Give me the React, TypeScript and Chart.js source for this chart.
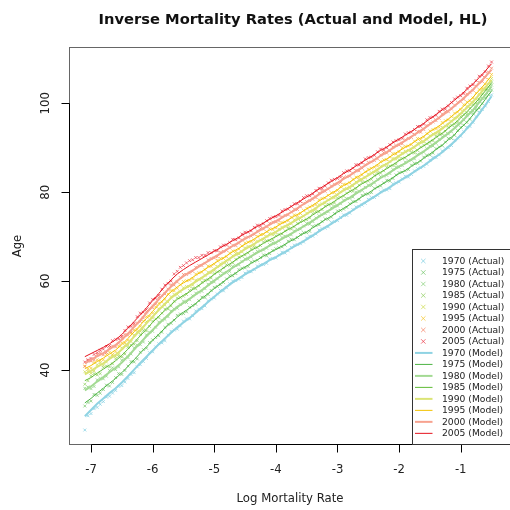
import { useEffect, useRef } from "react";
import { Chart, registerables } from "chart.js";

Chart.register(...registerables);

// Log mortality grid for the observed points
const LOG_RATES_FINE = [
  -7.1, -7.05, -7.0, -6.95, -6.9, -6.85, -6.8, -6.75, -6.7, -6.65,
  -6.6, -6.55, -6.5, -6.45, -6.4, -6.35, -6.3, -6.25, -6.2, -6.15,
  -6.1, -6.05, -6.0, -5.95, -5.9, -5.85, -5.8, -5.75, -5.7, -5.65,
  -5.6, -5.55, -5.5, -5.45, -5.4, -5.35, -5.3, -5.25, -5.2, -5.15,
  -5.1, -5.05, -5.0, -4.95, -4.9, -4.85, -4.8, -4.75, -4.7, -4.65,
  -4.6, -4.55, -4.5, -4.45, -4.4, -4.35, -4.3, -4.25, -4.2, -4.15,
  -4.1, -4.05, -4.0, -3.95, -3.9, -3.85, -3.8, -3.75, -3.7, -3.65,
  -3.6, -3.55, -3.5, -3.45, -3.4, -3.35, -3.3, -3.25, -3.2, -3.15,
  -3.1, -3.05, -3.0, -2.95, -2.9, -2.85, -2.8, -2.75, -2.7, -2.65,
  -2.6, -2.55, -2.5, -2.45, -2.4, -2.35, -2.3, -2.25, -2.2, -2.15,
  -2.1, -2.05, -2.0, -1.95, -1.9, -1.85, -1.8, -1.75, -1.7, -1.65,
  -1.6, -1.55, -1.5, -1.45, -1.4, -1.35, -1.3, -1.25, -1.2, -1.15,
  -1.1, -1.05, -1.0, -0.95, -0.9, -0.85, -0.8, -0.75, -0.7, -0.65,
  -0.6, -0.55, -0.5,
];

// Log mortality grid for the fitted curves
const LOG_RATES = [
  -7.1, -7.0, -6.9, -6.8, -6.7, -6.6, -6.5, -6.4, -6.3, -6.2,
  -6.1, -6.0, -5.9, -5.8, -5.7, -5.6, -5.5, -5.4, -5.3, -5.2,
  -5.1, -5.0, -4.9, -4.8, -4.7, -4.6, -4.5, -4.4, -4.3, -4.2,
  -4.1, -4.0, -3.9, -3.8, -3.7, -3.6, -3.5, -3.4, -3.3, -3.2,
  -3.1, -3.0, -2.9, -2.8, -2.7, -2.6, -2.5, -2.4, -2.3, -2.2,
  -2.1, -2.0, -1.9, -1.8, -1.7, -1.6, -1.5, -1.4, -1.3, -1.2,
  -1.1, -1.0, -0.9, -0.8, -0.7, -0.6, -0.5,
];

const YEARS = ["1970", "1975", "1980", "1985", "1990", "1995", "2000", "2005"];

// Observed ages at each log mortality level
const ACTUAL_1970 = [
  26.5, 29.7, 30.2, 31.3, 31.6, 32.3, 32.9, 33.9, 34.1, 34.8,
  35.4, 36.3, 36.5, 37.3, 38.1, 39.0, 39.4, 40.7, 41.2, 41.9,
  42.6, 43.9, 44.1, 45.2, 45.9, 46.1, 46.6, 47.9, 48.7, 49.0,
  49.2, 49.9, 51.0, 51.5, 51.5, 52.2, 53.3, 53.7, 53.8, 54.4,
  55.6, 56.0, 56.2, 57.1, 57.9, 57.8, 58.5, 59.4, 60.0, 60.1,
  60.4, 60.8, 61.8, 62.2, 62.1, 62.6, 63.4, 63.7, 63.7, 64.0,
  65.0, 65.1, 65.2, 65.9, 66.5, 66.3, 66.8, 67.6, 68.1, 68.2,
  68.4, 68.8, 69.7, 70.1, 70.1, 70.6, 71.5, 71.8, 71.9, 72.2,
  73.2, 73.4, 73.6, 74.3, 74.9, 74.8, 75.3, 76.1, 76.7, 76.8,
  77.1, 77.5, 78.4, 78.8, 78.8, 79.3, 80.1, 80.5, 80.5, 80.8,
  81.9, 82.1, 82.3, 83.0, 83.6, 83.4, 84.0, 84.8, 85.3, 85.5,
  85.8, 86.3, 87.2, 87.8, 87.8, 88.4, 89.3, 89.8, 90.0, 90.5,
  91.7, 92.2, 92.6, 93.6, 94.6, 94.8, 95.7, 97.0, 98.0, 98.6,
  99.4, 100.4, 101.9,
];
const ACTUAL_1975 = [
  31.9, 32.7, 33.0, 34.5, 34.3, 34.8, 35.6, 36.6, 36.4, 37.2,
  38.3, 39.2, 39.0, 39.9, 40.9, 41.9, 41.8, 42.5, 44.0, 44.6,
  44.9, 46.2, 46.8, 47.3, 47.7, 48.5, 49.6, 50.3, 50.5, 51.2,
  52.3, 52.6, 52.7, 53.1, 54.1, 54.5, 54.8, 55.6, 56.4, 56.3,
  57.0, 57.9, 58.6, 58.8, 59.2, 59.7, 60.5, 61.2, 61.2, 61.7,
  62.6, 62.9, 63.0, 63.3, 64.3, 64.5, 64.7, 65.3, 65.9, 65.7,
  66.2, 66.9, 67.3, 67.5, 67.7, 68.1, 69.0, 69.4, 69.3, 69.8,
  70.5, 70.9, 70.9, 71.2, 72.3, 72.5, 72.7, 73.4, 74.0, 73.9,
  74.4, 75.2, 75.8, 75.9, 76.2, 76.6, 77.4, 77.9, 77.9, 78.4,
  79.3, 79.6, 79.6, 79.9, 80.9, 81.2, 81.4, 82.1, 82.7, 82.5,
  83.1, 83.9, 84.4, 84.5, 84.8, 85.1, 86.1, 86.5, 86.5, 87.0,
  87.9, 88.3, 88.4, 88.8, 89.8, 90.2, 90.5, 91.3, 92.1, 92.1,
  92.8, 93.9, 94.6, 95.1, 95.7, 96.4, 97.7, 98.5, 98.9, 99.9,
  101.2, 102.0, 103.0,
];
const ACTUAL_1980 = [
  35.9, 36.2, 35.8, 36.3, 37.8, 38.1, 38.0, 38.6, 39.9, 40.5,
  40.1, 40.7, 42.2, 42.5, 42.8, 43.6, 45.0, 45.6, 45.7, 46.3,
  47.9, 48.5, 48.7, 49.6, 50.8, 51.2, 51.4, 52.0, 53.3, 53.7,
  53.9, 54.7, 55.5, 55.2, 55.8, 56.7, 57.3, 57.5, 57.7, 58.3,
  59.3, 59.8, 59.8, 60.5, 61.3, 61.8, 61.9, 62.2, 63.3, 63.5,
  63.7, 64.4, 65.0, 64.9, 65.4, 66.2, 66.7, 66.8, 67.0, 67.4,
  68.2, 68.6, 68.5, 69.0, 69.8, 70.1, 70.1, 70.4, 71.3, 71.6,
  71.7, 72.4, 73.0, 72.8, 73.4, 74.2, 74.7, 74.9, 75.2, 75.6,
  76.5, 76.9, 76.9, 77.4, 78.2, 78.6, 78.6, 78.9, 80.0, 80.2,
  80.4, 81.1, 81.6, 81.5, 82.1, 82.9, 83.5, 83.6, 83.8, 84.2,
  85.1, 85.6, 85.6, 86.0, 86.8, 87.1, 87.2, 87.5, 88.5, 88.8,
  89.0, 89.8, 90.4, 90.4, 91.0, 91.9, 92.5, 92.7, 93.1, 93.6,
  94.6, 95.3, 95.5, 96.3, 97.4, 98.0, 98.3, 99.0, 100.4, 101.1,
  101.8, 102.9, 104.1,
];
const ACTUAL_1985 = [
  36.8, 37.6, 38.7, 39.2, 38.9, 39.2, 40.6, 40.9, 40.7, 41.4,
  42.5, 43.1, 42.9, 43.6, 45.1, 45.6, 45.8, 46.6, 48.0, 48.9,
  48.8, 49.8, 51.0, 51.5, 51.8, 52.8, 53.7, 53.7, 54.4, 55.5,
  56.2, 56.3, 56.6, 57.0, 57.9, 58.4, 58.3, 58.9, 59.8, 60.2,
  60.3, 60.7, 61.7, 62.1, 62.2, 63.0, 63.7, 63.5, 64.1, 64.9,
  65.4, 65.6, 65.9, 66.3, 67.2, 67.6, 67.5, 68.0, 68.8, 69.1,
  69.1, 69.3, 70.2, 70.5, 70.6, 71.3, 71.9, 71.7, 72.2, 73.0,
  73.4, 73.6, 73.8, 74.2, 75.2, 75.6, 75.6, 76.1, 76.9, 77.3,
  77.3, 77.6, 78.7, 78.9, 79.1, 79.8, 80.3, 80.2, 80.8, 81.6,
  82.2, 82.3, 82.5, 82.9, 83.8, 84.3, 84.3, 84.8, 85.6, 85.9,
  86.0, 86.3, 87.3, 87.6, 87.7, 88.4, 89.0, 88.8, 89.4, 90.2,
  90.6, 90.9, 91.2, 91.6, 92.6, 93.1, 93.1, 93.7, 94.6, 95.1,
  95.3, 95.8, 97.0, 97.5, 97.9, 98.9, 99.7, 100.0, 100.9, 102.1,
  103.1, 103.7, 104.8,
];
const ACTUAL_1990 = [
  39.6, 39.7, 39.3, 39.8, 41.2, 41.6, 41.1, 41.8, 42.9, 43.2,
  43.0, 43.5, 45.0, 45.5, 45.6, 46.4, 47.9, 48.6, 48.7, 49.5,
  50.9, 51.3, 51.7, 52.9, 53.8, 54.2, 54.6, 55.3, 56.5, 57.0,
  57.0, 57.6, 58.5, 58.8, 58.8, 59.1, 60.2, 60.4, 60.6, 61.3,
  62.0, 61.9, 62.4, 63.3, 63.9, 64.1, 64.4, 64.8, 65.7, 66.2,
  66.1, 66.6, 67.5, 67.8, 67.8, 68.1, 69.0, 69.3, 69.4, 70.1,
  70.7, 70.4, 70.9, 71.7, 72.1, 72.3, 72.5, 72.9, 73.8, 74.2,
  74.1, 74.6, 75.3, 75.7, 75.8, 76.1, 77.2, 77.4, 77.6, 78.3,
  78.8, 78.7, 79.3, 80.1, 80.7, 80.8, 81.0, 81.4, 82.3, 82.8,
  82.8, 83.3, 84.1, 84.4, 84.5, 84.8, 85.8, 86.1, 86.2, 86.9,
  87.6, 87.4, 88.0, 88.8, 89.2, 89.4, 89.6, 90.0, 91.0, 91.4,
  91.3, 91.9, 92.7, 93.1, 93.2, 93.5, 94.6, 94.9, 95.2, 96.0,
  96.7, 96.8, 97.5, 98.5, 99.3, 99.7, 100.2, 100.9, 102.1, 103.0,
  103.4, 104.3, 105.6,
];
const ACTUAL_1995 = [
  40.9, 40.2, 40.4, 41.7, 42.3, 42.1, 42.3, 43.5, 44.0, 43.5,
  44.1, 45.4, 46.1, 46.1, 46.7, 48.3, 49.0, 49.1, 49.8, 51.0,
  52.0, 52.1, 52.8, 54.2, 55.0, 55.3, 55.9, 57.1, 57.9, 57.8,
  58.4, 59.2, 59.9, 60.1, 60.2, 60.5, 61.6, 61.9, 62.0, 62.6,
  63.4, 63.3, 63.8, 64.7, 65.1, 65.1, 65.5, 66.3, 66.8, 66.7,
  67.2, 67.9, 68.6, 68.8, 68.9, 69.2, 70.1, 70.5, 70.5, 71.1,
  71.8, 71.6, 72.0, 72.9, 73.2, 73.3, 73.6, 74.4, 74.9, 74.7,
  75.2, 75.9, 76.4, 76.7, 76.9, 77.2, 78.3, 78.6, 78.7, 79.3,
  79.9, 79.9, 80.4, 81.3, 81.8, 81.8, 82.1, 82.9, 83.4, 83.3,
  83.9, 84.6, 85.2, 85.4, 85.6, 85.9, 86.9, 87.3, 87.3, 87.9,
  88.7, 88.6, 89.1, 90.0, 90.3, 90.4, 90.7, 91.5, 92.1, 91.9,
  92.4, 93.2, 93.8, 94.1, 94.3, 94.6, 95.7, 96.1, 96.3, 97.0,
  97.8, 98.0, 98.6, 99.7, 100.3, 100.6, 101.2, 102.3, 103.1, 103.4,
  104.3, 105.4, 106.5,
];
const ACTUAL_2000 = [
  40.8, 42.1, 42.0, 42.3, 43.5, 43.8, 43.4, 43.9, 45.1, 45.4,
  45.2, 46.0, 47.2, 48.0, 47.8, 48.5, 50.1, 50.6, 50.9, 51.7,
  53.1, 53.8, 54.0, 54.8, 56.3, 56.7, 57.1, 58.2, 59.2, 59.1,
  59.8, 60.8, 61.5, 61.5, 61.8, 62.2, 63.1, 63.5, 63.5, 64.0,
  64.8, 65.1, 65.2, 65.5, 66.5, 66.7, 66.9, 67.6, 68.1, 68.0,
  68.5, 69.3, 69.8, 69.9, 70.1, 70.5, 71.3, 71.8, 71.7, 72.2,
  73.0, 73.3, 73.3, 73.6, 74.5, 74.8, 74.9, 75.6, 76.2, 76.1,
  76.7, 77.5, 77.9, 78.1, 78.4, 78.8, 79.8, 80.2, 80.2, 80.7,
  81.4, 81.8, 81.9, 82.2, 83.3, 83.5, 83.6, 84.3, 84.9, 84.8,
  85.4, 86.2, 86.7, 86.8, 87.1, 87.5, 88.4, 88.9, 88.8, 89.3,
  90.2, 90.5, 90.6, 90.9, 91.8, 92.1, 92.3, 93.0, 93.7, 93.5,
  94.1, 95.0, 95.5, 95.8, 96.1, 96.6, 97.6, 98.1, 98.1, 98.7,
  99.6, 100.2, 100.4, 100.9, 102.1, 102.5, 102.9, 103.9, 104.7, 104.9,
  105.8, 107.0, 107.9,
];
const ACTUAL_2005 = [
  41.8, 42.3, 42.6, 43.5, 43.9, 44.4, 44.7, 45.3, 45.5, 46.6,
  46.9, 47.0, 47.6, 48.9, 49.7, 49.8, 50.5, 52.0, 52.8, 53.0,
  53.6, 55.1, 55.9, 56.1, 56.8, 58.2, 59.1, 59.5, 60.0, 61.6,
  62.2, 63.1, 63.5, 64.1, 64.6, 64.8, 65.3, 65.3, 65.8, 65.8,
  66.4, 66.4, 66.9, 66.8, 67.7, 68.1, 68.1, 68.7, 69.4, 69.3,
  69.7, 70.6, 71.0, 71.0, 71.3, 72.1, 72.6, 72.4, 72.9, 73.6,
  74.1, 74.4, 74.5, 74.8, 75.8, 76.1, 76.2, 76.8, 77.4, 77.4,
  77.9, 78.8, 79.2, 79.2, 79.6, 80.4, 80.9, 80.8, 81.4, 82.1,
  82.7, 82.9, 83.1, 83.4, 84.4, 84.8, 84.8, 85.4, 86.2, 86.1,
  86.6, 87.5, 87.8, 87.9, 88.3, 89.1, 89.7, 89.5, 90.0, 90.7,
  91.3, 91.6, 91.8, 92.1, 93.1, 93.4, 93.5, 94.1, 94.8, 94.8,
  95.3, 96.3, 96.8, 96.9, 97.3, 98.2, 98.7, 98.7, 99.4, 100.2,
  101.0, 101.4, 101.7, 102.2, 103.4, 103.9, 104.2, 105.1, 106.1, 106.3,
  107.1, 108.4, 109.3,
];

// Fitted (model) ages at each log mortality level
const MODEL_1970 = [
  29.6, 31.0, 32.4, 33.6, 34.8, 35.9, 37.2, 38.6, 40.1, 41.6,
  43.0, 44.4, 45.8, 47.1, 48.4, 49.6, 50.7, 51.7, 52.9, 54.1,
  55.3, 56.5, 57.6, 58.7, 59.7, 60.6, 61.5, 62.3, 63.1, 63.9,
  64.7, 65.4, 66.2, 67.0, 67.8, 68.6, 69.4, 70.3, 71.2, 72.1,
  72.9, 73.8, 74.7, 75.5, 76.4, 77.3, 78.1, 79.0, 79.9, 80.7,
  81.6, 82.5, 83.3, 84.2, 85.1, 86.0, 87.0, 88.0, 89.0, 90.2,
  91.4, 92.8, 94.3, 95.9, 97.7, 99.6, 101.6,
];
const MODEL_1975 = [
  32.6, 33.6, 34.8, 35.9, 37.0, 38.1, 39.4, 40.8, 42.3, 43.8,
  45.2, 46.6, 48.1, 49.4, 50.7, 51.9, 53.0, 53.9, 55.0, 56.1,
  57.2, 58.3, 59.4, 60.4, 61.4, 62.3, 63.2, 64.0, 64.8, 65.6,
  66.4, 67.1, 67.9, 68.7, 69.5, 70.3, 71.1, 72.0, 72.9, 73.8,
  74.6, 75.5, 76.4, 77.2, 78.1, 79.0, 79.8, 80.7, 81.6, 82.4,
  83.3, 84.2, 84.9, 85.8, 86.7, 87.6, 88.6, 89.6, 90.6, 91.8,
  93.0, 94.4, 95.8, 97.4, 99.1, 100.9, 102.8,
];
const MODEL_1980 = [
  35.4, 36.3, 37.4, 38.4, 39.5, 40.5, 41.7, 43.1, 44.6, 46.1,
  47.6, 49.0, 50.4, 51.7, 53.0, 54.2, 55.1, 56.0, 57.0, 58.0,
  59.0, 60.1, 61.1, 62.1, 63.0, 63.9, 64.8, 65.6, 66.4, 67.2,
  68.0, 68.7, 69.5, 70.3, 71.1, 71.9, 72.7, 73.6, 74.5, 75.4,
  76.2, 77.1, 78.0, 78.8, 79.7, 80.6, 81.4, 82.3, 83.2, 84.0,
  84.9, 85.8, 86.5, 87.4, 88.3, 89.2, 90.2, 91.2, 92.2, 93.3,
  94.4, 95.7, 97.1, 98.5, 100.2, 101.9, 103.8,
];
const MODEL_1985 = [
  37.6, 38.3, 39.3, 40.2, 41.1, 42.1, 43.3, 44.7, 46.2, 47.7,
  49.2, 50.7, 52.1, 53.4, 54.7, 55.9, 56.8, 57.6, 58.6, 59.5,
  60.5, 61.5, 62.5, 63.4, 64.3, 65.2, 66.1, 66.9, 67.7, 68.5,
  69.3, 70.0, 70.8, 71.6, 72.4, 73.2, 74.0, 74.9, 75.8, 76.7,
  77.5, 78.4, 79.3, 80.1, 81.0, 81.9, 82.7, 83.6, 84.5, 85.3,
  86.2, 87.1, 87.9, 88.7, 89.6, 90.4, 91.4, 92.3, 93.3, 94.4,
  95.5, 96.7, 98.1, 99.5, 101.1, 102.8, 104.6,
];
const MODEL_1990 = [
  39.0, 39.8, 40.7, 41.5, 42.5, 43.4, 44.6, 46.0, 47.5, 49.0,
  50.5, 52.0, 53.5, 54.9, 56.2, 57.3, 58.2, 59.0, 59.9, 60.8,
  61.7, 62.7, 63.6, 64.6, 65.5, 66.3, 67.2, 68.0, 68.8, 69.6,
  70.4, 71.1, 71.9, 72.7, 73.5, 74.3, 75.1, 76.0, 76.9, 77.8,
  78.6, 79.5, 80.4, 81.2, 82.1, 83.0, 83.8, 84.7, 85.6, 86.4,
  87.3, 88.2, 89.0, 89.8, 90.7, 91.5, 92.5, 93.4, 94.3, 95.4,
  96.5, 97.7, 99.0, 100.4, 101.9, 103.6, 105.3,
];
const MODEL_1995 = [
  40.3, 41.0, 41.9, 42.7, 43.6, 44.5, 45.7, 47.1, 48.6, 50.1,
  51.6, 53.2, 54.7, 56.2, 57.6, 58.7, 59.6, 60.4, 61.3, 62.2,
  63.1, 64.0, 64.8, 65.7, 66.6, 67.4, 68.3, 69.1, 69.9, 70.7,
  71.5, 72.2, 73.0, 73.8, 74.6, 75.4, 76.2, 77.1, 78.0, 78.9,
  79.7, 80.6, 81.5, 82.3, 83.2, 84.1, 84.9, 85.8, 86.7, 87.5,
  88.4, 89.3, 90.1, 90.9, 91.8, 92.6, 93.6, 94.5, 95.4, 96.5,
  97.6, 98.8, 100.0, 101.4, 102.9, 104.5, 106.2,
];
const MODEL_2000 = [
  41.5, 42.3, 43.1, 43.8, 44.7, 45.6, 46.8, 48.2, 49.7, 51.2,
  52.8, 54.4, 55.9, 57.4, 58.8, 60.1, 61.1, 62.0, 62.8, 63.7,
  64.5, 65.4, 66.2, 67.1, 67.9, 68.7, 69.5, 70.3, 71.1, 71.9,
  72.7, 73.5, 74.3, 75.1, 75.9, 76.9, 77.7, 78.6, 79.5, 80.4,
  81.2, 82.1, 83.0, 83.8, 84.7, 85.6, 86.4, 87.3, 88.2, 89.0,
  89.9, 90.8, 91.6, 92.5, 93.4, 94.3, 95.3, 96.3, 97.3, 98.3,
  99.4, 100.6, 101.8, 103.1, 104.5, 106.0, 107.6,
];
const MODEL_2005 = [
  43.0, 43.7, 44.4, 45.1, 45.9, 46.8, 48.0, 49.4, 50.9, 52.4,
  54.0, 55.6, 57.2, 58.8, 60.3, 61.6, 62.6, 63.5, 64.3, 65.1,
  65.9, 66.7, 67.5, 68.3, 69.1, 69.9, 70.7, 71.5, 72.3, 73.1,
  73.9, 74.7, 75.5, 76.4, 77.2, 78.1, 78.9, 79.8, 80.7, 81.6,
  82.4, 83.3, 84.2, 85.0, 85.9, 86.8, 87.6, 88.5, 89.4, 90.2,
  91.1, 92.0, 92.8, 93.7, 94.6, 95.5, 96.5, 97.5, 98.5, 99.6,
  100.7, 101.9, 103.1, 104.4, 105.8, 107.3, 108.9,
];

const X_TICKS = [-7, -6, -5, -4, -3, -2, -1];
const Y_TICKS = [40, 60, 80, 100];

const ACTUAL = [ACTUAL_1970, ACTUAL_1975, ACTUAL_1980, ACTUAL_1985, ACTUAL_1990, ACTUAL_1995, ACTUAL_2000, ACTUAL_2005];
const MODEL = [MODEL_1970, MODEL_1975, MODEL_1980, MODEL_1985, MODEL_1990, MODEL_1995, MODEL_2000, MODEL_2005];

// Series styling
const POINT_COLORS = [
  "rgba(135, 210, 228, 0.8)",
  "rgba(110, 195, 100, 0.7)",
  "rgba(130, 205, 115, 0.7)",
  "rgba(140, 205, 90, 0.7)",
  "rgba(205, 220, 80, 0.75)",
  "rgba(245, 200, 50, 0.75)",
  "rgba(245, 125, 95, 0.7)",
  "rgba(235, 50, 65, 0.7)",
];
const LINE_COLORS = ["#8fd3e3", "#4cb444", "#a3da93", "#5fbb35", "#dbe476", "#f3c200", "#f7a28f", "#e5131d"];
const LINE_WIDTHS = [2, 1, 2, 1, 2, 1, 2, 1];

const FONT = "'DejaVu Sans', sans-serif";

function drawCross(ctx: CanvasRenderingContext2D, x: number, y: number, r: number) {
  ctx.beginPath();
  ctx.moveTo(x - r, y - r);
  ctx.lineTo(x + r, y + r);
  ctx.moveTo(x + r, y - r);
  ctx.lineTo(x - r, y + r);
  ctx.stroke();
}

// Base-graphics style frame, axes, titles and legend
const frame = {
  id: "frame",
  afterDraw(chart: any) {
    const { ctx, chartArea: a, scales } = chart;
    const xs = scales.x;
    const ys = scales.y;
    ctx.save();

    // plot box
    ctx.strokeStyle = "#666";
    ctx.lineWidth = 1;
    ctx.strokeRect(a.left + 0.5, a.top + 0.5, a.right - a.left - 1, a.bottom - a.top - 1);

    // axes with outward ticks
    ctx.strokeStyle = "#000";
    ctx.beginPath();
    const yb = a.bottom - 0.5;
    const xFirst = Math.round(xs.getPixelForValue(X_TICKS[0])) + 0.5;
    const xLast = Math.round(xs.getPixelForValue(X_TICKS[X_TICKS.length - 1])) + 0.5;
    ctx.moveTo(xFirst, yb);
    ctx.lineTo(xLast, yb);
    X_TICKS.forEach((t) => {
      const px = Math.round(xs.getPixelForValue(t)) + 0.5;
      ctx.moveTo(px, yb);
      ctx.lineTo(px, yb + 8);
    });
    const xl = a.left + 0.5;
    const yFirst = Math.round(ys.getPixelForValue(Y_TICKS[0])) + 0.5;
    const yLast = Math.round(ys.getPixelForValue(Y_TICKS[Y_TICKS.length - 1])) + 0.5;
    ctx.moveTo(xl, yFirst);
    ctx.lineTo(xl, yLast);
    Y_TICKS.forEach((t) => {
      const py = Math.round(ys.getPixelForValue(t)) + 0.5;
      ctx.moveTo(xl, py);
      ctx.lineTo(xl - 8, py);
    });
    ctx.stroke();

    // tick labels
    ctx.fillStyle = "#222";
    ctx.font = `11.7px ${FONT}`;
    ctx.textAlign = "center";
    ctx.textBaseline = "alphabetic";
    X_TICKS.forEach((t) => {
      ctx.fillText(String(t), xs.getPixelForValue(t), 472.5);
    });
    Y_TICKS.forEach((t) => {
      ctx.save();
      ctx.translate(49.3, ys.getPixelForValue(t));
      ctx.rotate(-Math.PI / 2);
      ctx.fillText(String(t), 0, 0);
      ctx.restore();
    });

    // axis titles
    ctx.fillText("Log Mortality Rate", 290, 502);
    ctx.save();
    ctx.translate(21, 246);
    ctx.rotate(-Math.PI / 2);
    ctx.fillText("Age", 0, 0);
    ctx.restore();

    // main title
    ctx.fillStyle = "#111";
    ctx.font = `bold 14.7px ${FONT}`;
    ctx.fillText("Inverse Mortality Rates (Actual and Model, HL)", 293, 24);

    // legend
    const lx = 412.5;
    const ly = 249.5;
    ctx.fillStyle = "#fff";
    ctx.fillRect(lx, ly, a.right - lx, a.bottom - ly);
    ctx.strokeStyle = "#333";
    ctx.strokeRect(lx, ly, a.right - lx + 2, a.bottom - 0.5 - ly);
    ctx.font = `9.2px ${FONT}`;
    ctx.textAlign = "left";
    ctx.textBaseline = "middle";
    const step = 11.49;
    YEARS.forEach((yr, i) => {
      const y = 261 + i * step;
      ctx.strokeStyle = POINT_COLORS[i];
      ctx.lineWidth = 1;
      drawCross(ctx, 423.3, y, 2.2);
      ctx.fillStyle = "#222";
      ctx.fillText(`${yr} (Actual)`, 442, y + 0.5);
    });
    YEARS.forEach((yr, i) => {
      const y = 261 + (i + 8) * step;
      ctx.strokeStyle = LINE_COLORS[i];
      ctx.lineWidth = LINE_WIDTHS[i];
      ctx.beginPath();
      ctx.moveTo(415, y);
      ctx.lineTo(432.5, y);
      ctx.stroke();
      ctx.fillStyle = "#222";
      ctx.fillText(`${yr} (Model)`, 442, y + 0.5);
    });

    ctx.restore();
  },
};

export default function App() {
  const canvasRef = useRef<HTMLCanvasElement | null>(null);

  useEffect(() => {
    const canvas = canvasRef.current;
    if (!canvas) return;

    const pointSets = YEARS.map((yr, i) => ({
      label: `${yr} (Actual)`,
      data: LOG_RATES_FINE.map((x, j) => ({ x, y: ACTUAL[i][j] })),
      showLine: false,
      pointStyle: "crossRot" as const,
      pointRadius: 2,
      pointBorderWidth: 1,
      borderColor: POINT_COLORS[i],
      pointBorderColor: POINT_COLORS[i],
      backgroundColor: POINT_COLORS[i],
      order: 20 - i,
    }));

    const lineSets = YEARS.map((yr, i) => ({
      label: `${yr} (Model)`,
      data: LOG_RATES.map((x, j) => ({ x, y: MODEL[i][j] })),
      showLine: true,
      pointRadius: 0,
      borderColor: LINE_COLORS[i],
      borderWidth: LINE_WIDTHS[i],
      tension: 0,
      order: 10 - i,
    }));

    const chart = new Chart(canvas, {
      type: "scatter",
      data: { datasets: [...pointSets, ...lineSets] as any },
      options: {
        responsive: false,
        animation: false,
        events: [],
        layout: { padding: { left: 69, top: 47, right: 8, bottom: 65 } },
        scales: {
          x: { type: "linear", min: -7.357, max: -0.168, display: false },
          y: { type: "linear", min: 23.13, max: 112.67, display: false },
        },
        plugins: {
          legend: { display: false },
          tooltip: { enabled: false },
          title: { display: false },
        },
      },
      plugins: [frame],
    });

    return () => chart.destroy();
  }, []);

  return (
    <div
      style={{
        position: "fixed",
        left: 0,
        top: 0,
        width: 510,
        height: 510,
        overflow: "hidden",
        background: "#fff",
      }}
    >
      <canvas ref={canvasRef} width={520} height={510} style={{ display: "block" }} />
    </div>
  );
}
